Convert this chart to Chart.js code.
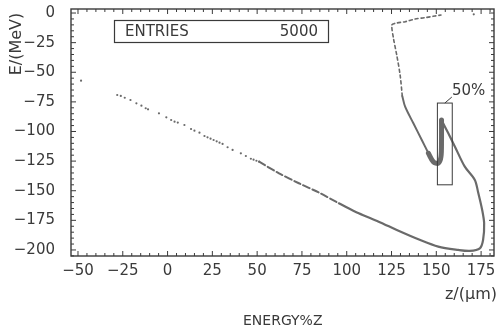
<!DOCTYPE html>
<html>
<head>
<meta charset="utf-8">
<title>ENERGY%Z</title>
<script src="https://cdn.jsdelivr.net/npm/chart.js@4.4.1/dist/chart.umd.min.js"></script>
<style>
    html, body { margin: 0; padding: 0; background: #fff; }
    #wrap { width: 498px; height: 331px; position: relative; }
</style>
</head>
<body>
<div id="wrap"><canvas id="plot"></canvas></div>
<script>
// axis ranges and tick labels
const zMin = -53.9, zMax = 182.2;
const eMin = -205.1, eMax = 3.4;
const zTicks = [-50, -25, 0, 25, 50, 75, 100, 125, 150, 175];
const eTicks = [0, -25, -50, -75, -100, -125, -150, -175, -200];

const entries = 5000;
const cutLabel = '50%';
const cutZ = [150.6, 158.9];
const cutE = [-76, -145];

// stray single hits
const strayZ = [-48.3, 170.9];
const strayE = [-57.1, -1.1];

// sparse low-energy tail (individual hits)
const tailZ = [-28.1, -26.1, -23.9, -20.7, -17.4, -14.6, -12.2, -10.9, -4.8, -0.7, 2.0, 3.9, 5.7, 9.4, 13.1, 15.0, 17.8,
    20.6, 22.3, 24.0, 25.7, 27.4, 29.0, 30.7, 33.5, 36.3, 40.9, 43.7, 46.5, 48.0, 49.6, 51.1];
const tailE = [-69.2, -70.0, -71.5, -73.4, -76.2, -78.2, -80.4, -81.3, -84.7, -88.0, -90.3, -91.7, -92.5, -94.5, -97.9, -99.3, -101.0,
    -103.8, -104.9, -106.1, -107.2, -108.3, -109.4, -110.5, -113.3, -115.6, -118.4, -120.7, -123.0, -123.8, -124.7, -125.5];

// lower track, dashed part
const lowDashZ = [51.1, 62.2, 73.3, 84.4, 95.6];
const lowDashE = [-125.5, -135.3, -143.7, -151.5, -160.6];

// lower track, solid part up to the turning point
const lowZ = [95.6, 106.7, 117.8, 128.9, 140.0, 151.1, 162.2, 168.7, 174.3, 176.1, 176.7, 175.6, 173.3, 171.5, 165.9, 160.4, 156.7, 152.9];
const lowE = [-160.6, -169.0, -176.1, -183.8, -191.0, -197.2, -200.0, -200.8, -198.6, -191.6, -177.5, -166.2, -151.0, -140.9, -129.7, -112.8, -101.5, -90.3];

// dense hook inside the 50% window
const hookZ = [152.9, 152.9, 152.6, 151.1, 148.3, 145.6];
const hookE = [-90.3, -107.2, -121.3, -126.8, -125.5, -118.4];

// upper branch, solid then dashed
const upZ = [145.6, 141.9, 137.2, 132.6, 131.0];
const upE = [-118.4, -107.2, -93.1, -79.1, -70.0];
const topZ = [131.0, 129.8, 127.9, 126.1, 125.2, 127.0, 132.6, 138.1, 143.7, 149.3, 152.6];
const topE = [-70.0, -52.3, -35.4, -21.4, -10.1, -8.7, -7.3, -5.1, -3.9, -2.5, -1.7];

const ink = '#3a3a3a';
const trackGrey = '#6a6a6a';
const fontFamily = '"DejaVu Sans", sans-serif';

function pairs(zs, es) {
    return zs.map((z, i) => ({ x: z, y: es[i] }));
}

function fmt(v) {
    return v < 0 ? '\u2212' + Math.abs(v) : String(v);
}

function lineSet(zs, es, width, dash) {
    return {
        data: pairs(zs, es),
        showLine: true,
        borderColor: trackGrey,
        borderWidth: width,
        borderDash: dash || [],
        borderCapStyle: 'round',
        borderJoinStyle: 'round',
        tension: 0.3,
        pointRadius: 0
    };
}

// keep the plot frame fixed: no extra room for overhanging tick labels
function fixScale(size) {
    return s => {
        if (s.isHorizontal()) {
            s.height = size;
        } else {
            s.width = size;
        }
        s.paddingTop = 0;
        s.paddingBottom = 0;
        s.paddingLeft = 0;
        s.paddingRight = 0;
    };
}

// frame, inward tick marks, boxes and axis titles
const framePlugin = {
    id: 'frame',
    afterDraw(chart) {
        const ctx = chart.ctx;
        const a = chart.chartArea;
        const xs = chart.scales.x;
        const ys = chart.scales.y;

        ctx.save();
        ctx.strokeStyle = ink;
        ctx.lineWidth = 1.4;
        ctx.strokeRect(a.left, a.top, a.right - a.left, a.bottom - a.top);

        ctx.lineWidth = 1;
        ctx.beginPath();
        for (let v = -50; v <= zMax; v += 5) {
            const px = xs.getPixelForValue(v);
            const len = v % 25 === 0 ? 5 : 3;
            ctx.moveTo(px, a.bottom); ctx.lineTo(px, a.bottom - len);
            ctx.moveTo(px, a.top); ctx.lineTo(px, a.top + len);
        }
        for (let v = 0; v >= eMin; v -= 5) {
            const py = ys.getPixelForValue(v);
            const len = v % 25 === 0 ? 5 : 3;
            ctx.moveTo(a.left, py); ctx.lineTo(a.left + len, py);
            ctx.moveTo(a.right, py); ctx.lineTo(a.right - len, py);
        }
        ctx.stroke();

        // statistics box
        ctx.lineWidth = 1.2;
        ctx.strokeRect(114.5, 20.5, 214, 22);
        ctx.fillStyle = ink;
        ctx.font = '15px ' + fontFamily;
        ctx.textBaseline = 'middle';
        ctx.textAlign = 'left';
        ctx.fillText('ENTRIES', 125, 32);
        ctx.textAlign = 'right';
        ctx.fillText(String(entries), 318, 32);

        // 50% window
        const bx0 = xs.getPixelForValue(cutZ[0]);
        const bx1 = xs.getPixelForValue(cutZ[1]);
        const by0 = ys.getPixelForValue(cutE[0]);
        const by1 = ys.getPixelForValue(cutE[1]);
        ctx.lineWidth = 1;
        ctx.strokeRect(bx0, by0, bx1 - bx0, by1 - by0);
        ctx.beginPath();
        ctx.moveTo((bx0 + bx1) / 2, by0);
        ctx.lineTo((bx0 + bx1) / 2 + 7, by0 - 6);
        ctx.stroke();
        ctx.font = '15px ' + fontFamily;
        ctx.textAlign = 'left';
        ctx.fillText(cutLabel, 452, 91);

        // axis titles
        ctx.font = '16px ' + fontFamily;
        ctx.textAlign = 'right';
        ctx.fillText('z/(\u03bcm)', 497, 295);
        ctx.textAlign = 'left';
        ctx.font = '14px ' + fontFamily;
        ctx.fillText('ENERGY%Z', 243, 321);

        ctx.translate(17, 44);
        ctx.rotate(-Math.PI / 2);
        ctx.textAlign = 'center';
        ctx.font = '16px ' + fontFamily;
        ctx.fillText('E/(MeV)', 0, 0);
        ctx.restore();
    }
};

new Chart(document.getElementById('plot'), {
    type: 'scatter',
    data: {
        datasets: [
            lineSet(hookZ, hookE, 5),
            lineSet(lowDashZ, lowDashE, 2, [7, 3]),
            lineSet(lowZ, lowE, 2.2),
            lineSet(upZ, upE, 2),
            lineSet(topZ, topE, 1.6, [3, 3]),
            {
                data: pairs(tailZ, tailE),
                pointRadius: 1.1,
                pointBorderWidth: 0,
                pointBackgroundColor: trackGrey,
                showLine: false
            },
            {
                data: pairs(strayZ, strayE),
                pointRadius: 1.1,
                pointBorderWidth: 0,
                pointBackgroundColor: trackGrey,
                showLine: false
            }
        ]
    },
    options: {
        responsive: true,
        maintainAspectRatio: false,
        animation: false,
        layout: { padding: { top: 9, right: 2, left: 0, bottom: 0 } },
        plugins: {
            legend: { display: false },
            tooltip: { enabled: false }
        },
        scales: {
            x: {
                type: 'linear',
                min: zMin,
                max: zMax,
                afterBuildTicks: s => { s.ticks = zTicks.map(v => ({ value: v })); },
                afterFit: fixScale(75),
                grid: { display: false, drawTicks: false },
                border: { display: false },
                ticks: {
                    padding: 6,
                    color: ink,
                    autoSkip: false,
                    maxRotation: 0,
                    font: { family: fontFamily, size: 15 },
                    callback: v => fmt(v)
                }
            },
            y: {
                type: 'linear',
                min: eMin,
                max: eMax,
                afterBuildTicks: s => { s.ticks = eTicks.map(v => ({ value: v })); },
                afterFit: fixScale(71),
                grid: { display: false, drawTicks: false },
                border: { display: false },
                ticks: {
                    padding: 16,
                    color: ink,
                    autoSkip: false,
                    font: { family: fontFamily, size: 15 },
                    callback: v => fmt(v)
                }
            }
        }
    },
    plugins: [framePlugin]
});
</script>
</body>
</html>
